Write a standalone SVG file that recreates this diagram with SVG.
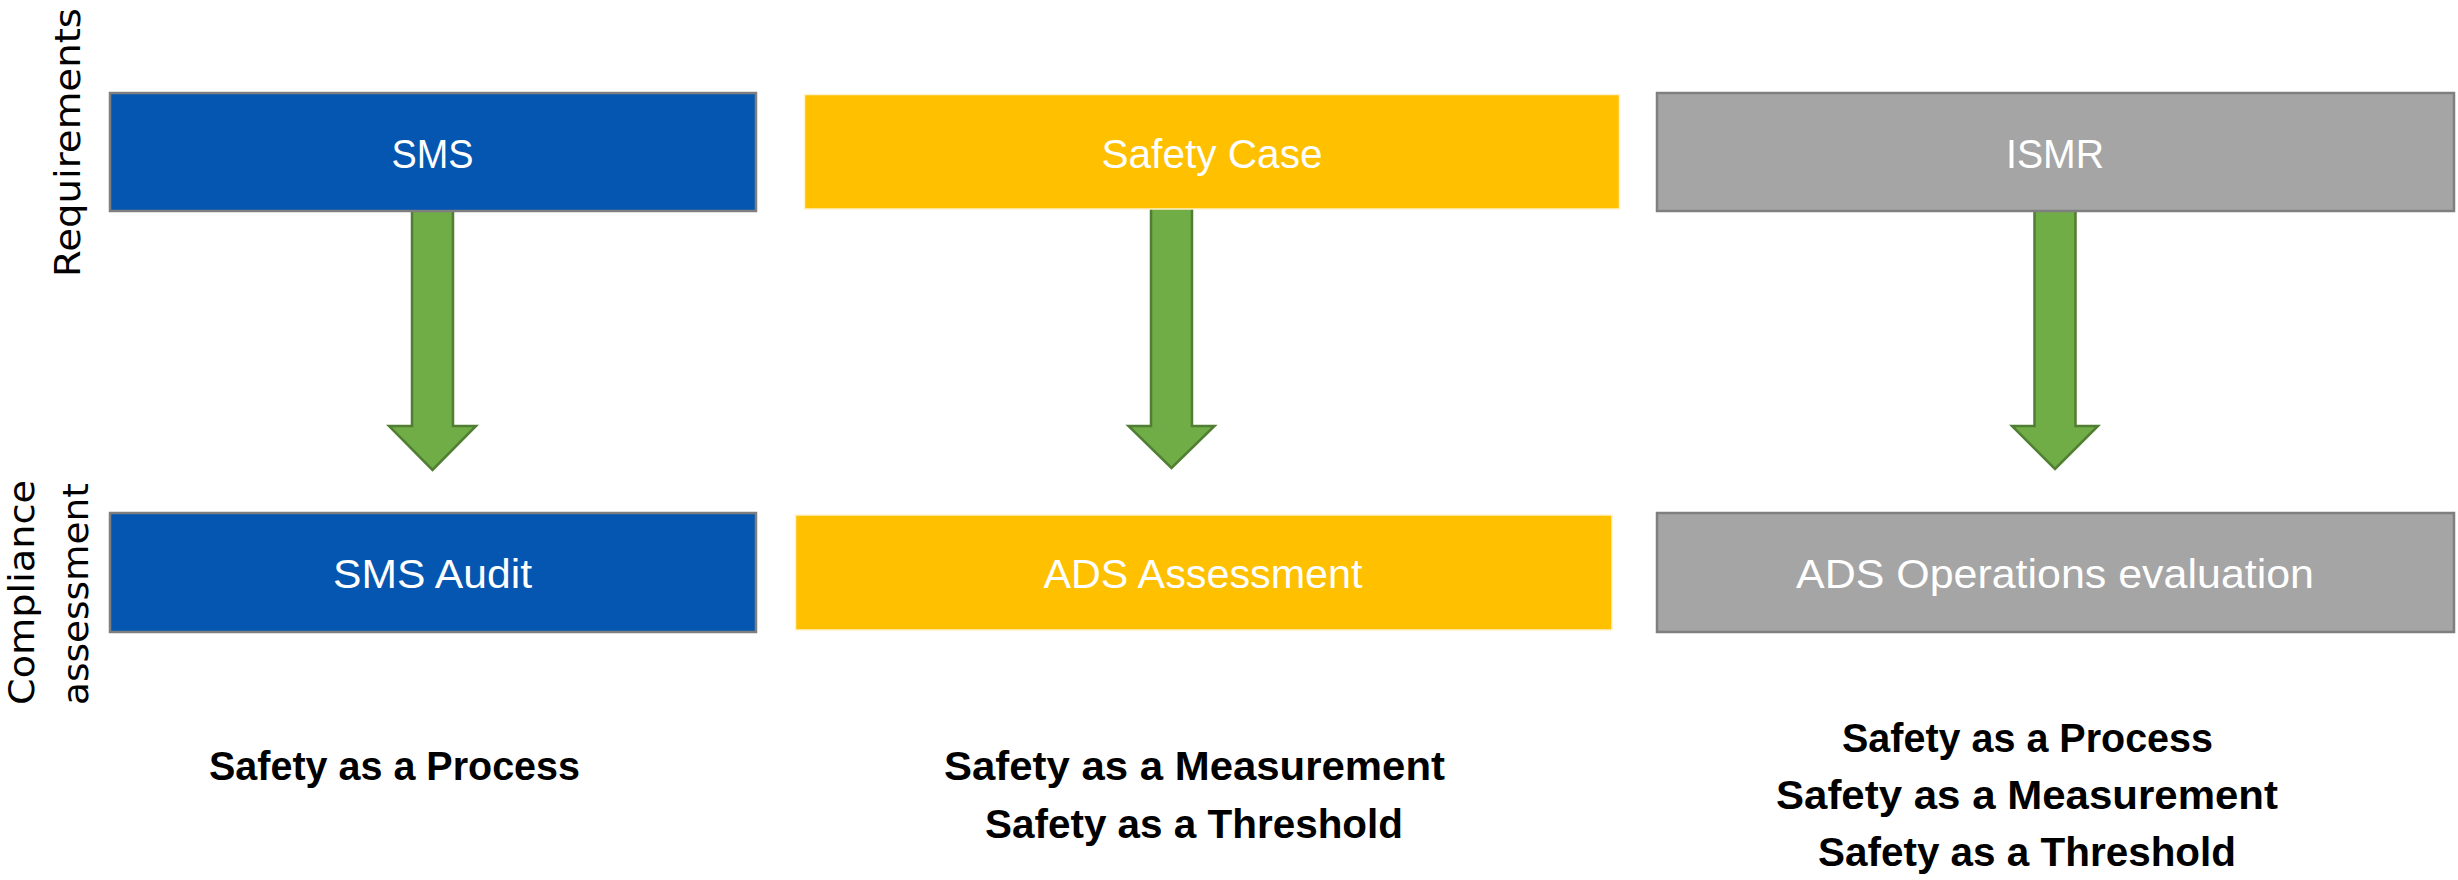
<svg xmlns="http://www.w3.org/2000/svg" width="2458" height="880" viewBox="0 0 2458 880">
<style>
.box-blue{fill:#0556B0;stroke:#7F7F7F;stroke-width:2.5}
.box-yellow{fill:#FFC000;stroke:#FFF2CC;stroke-width:1.5}
.box-gray{fill:#A5A5A5;stroke:#7F7F7F;stroke-width:2.5}
.lbl{font-family:"Liberation Sans",Arial,sans-serif;font-size:41px;fill:#FFFFFF;text-anchor:middle}
.cap{font-family:"Liberation Sans",Arial,sans-serif;font-size:40px;font-weight:bold;fill:#000000;text-anchor:middle}
.axis{font-family:"DejaVu Sans","Liberation Sans",sans-serif;font-size:35px;fill:#000000;text-anchor:middle}
.arrow{fill:#70AD47;stroke:#507E32;stroke-width:2.5;stroke-linejoin:miter}
</style>
<rect width="2458" height="880" fill="#FFFFFF"/>
<g id="connectors">
<path class="arrow" d="M412,205 L453,205 L453,426 L476,426 L432.5,470 L389,426 L412,426 Z"/>
<path class="arrow" d="M1151,205 L1192,205 L1192,426 L1214.5,426 L1171.5,468 L1128.5,426 L1151,426 Z"/>
<path class="arrow" d="M2034.5,205 L2075.5,205 L2075.5,426 L2098,426 L2055,469 L2012,426 L2034.5,426 Z"/>
</g>
<g id="axis-labels">
<text class="axis" transform="translate(80,142.5) rotate(-90)" textLength="269" lengthAdjust="spacingAndGlyphs">Requirements</text>
<text class="axis" transform="translate(34,592.5) rotate(-90)" textLength="225" lengthAdjust="spacingAndGlyphs">Compliance</text>
<text class="axis" transform="translate(88,594) rotate(-90)" textLength="222" lengthAdjust="spacingAndGlyphs">assessment</text>
</g>
<g id="sms">
<rect class="box-blue" x="110" y="93" width="646" height="118"/>
<text class="lbl" x="432.5" y="168" textLength="82" lengthAdjust="spacingAndGlyphs">SMS</text>
</g>
<g id="safety-case">
<rect class="box-yellow" x="804.5" y="94.5" width="815" height="114.5"/>
<text class="lbl" x="1212" y="168" textLength="221" lengthAdjust="spacingAndGlyphs">Safety Case</text>
</g>
<g id="ismr">
<rect class="box-gray" x="1657" y="93" width="797" height="118"/>
<text class="lbl" x="2055" y="168" textLength="98" lengthAdjust="spacingAndGlyphs">ISMR</text>
</g>
<g id="sms-audit">
<rect class="box-blue" x="110" y="513" width="646" height="119"/>
<text class="lbl" x="432.5" y="588" textLength="199" lengthAdjust="spacingAndGlyphs">SMS Audit</text>
</g>
<g id="ads-assessment">
<rect class="box-yellow" x="795.5" y="515" width="816.5" height="115"/>
<text class="lbl" x="1203" y="588" textLength="319" lengthAdjust="spacingAndGlyphs">ADS Assessment</text>
</g>
<g id="ads-operations">
<rect class="box-gray" x="1657" y="513" width="797" height="119"/>
<text class="lbl" x="2055" y="588" textLength="518" lengthAdjust="spacingAndGlyphs">ADS Operations evaluation</text>
</g>
<g id="captions">
<text class="cap" x="394.5" y="780" textLength="371" lengthAdjust="spacingAndGlyphs">Safety as a Process</text>
<text class="cap" x="1194.5" y="780" textLength="501" lengthAdjust="spacingAndGlyphs">Safety as a Measurement</text>
<text class="cap" x="1194" y="838" textLength="418" lengthAdjust="spacingAndGlyphs">Safety as a Threshold</text>
<text class="cap" x="2027.5" y="752" textLength="371" lengthAdjust="spacingAndGlyphs">Safety as a Process</text>
<text class="cap" x="2027" y="809" textLength="502" lengthAdjust="spacingAndGlyphs">Safety as a Measurement</text>
<text class="cap" x="2027" y="866" textLength="418" lengthAdjust="spacingAndGlyphs">Safety as a Threshold</text>
</g>
</svg>
